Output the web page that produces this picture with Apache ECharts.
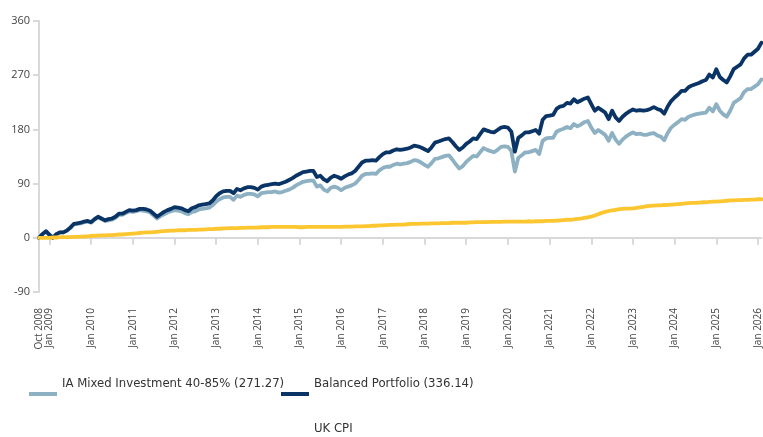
<!DOCTYPE html>
<html>
<head>
<meta charset="utf-8">
<script src="https://cdn.jsdelivr.net/npm/echarts@6/dist/echarts.min.js"></script>
<style>
  html, body { margin: 0; padding: 0; background: #fff; }
  #main { width: 763px; height: 437px; }
</style>
</head>
<body>
<div id="main"></div>
<script>
// monthly points, Oct 2008 .. Feb 2026
let monthNames = ['Jan', 'Feb', 'Mar', 'Apr', 'May', 'Jun', 'Jul', 'Aug', 'Sep', 'Oct', 'Nov', 'Dec'];
let startYear = 2008;
let startMonth = 9; // Oct
let monthCount = 209;

let tickLabels = ['Oct 2008', 'Jan 2009', 'Jan 2010', 'Jan 2011', 'Jan 2012', 'Jan 2013', 'Jan 2014',
    'Jan 2015', 'Jan 2016', 'Jan 2017', 'Jan 2018', 'Jan 2019', 'Jan 2020', 'Jan 2021',
    'Jan 2022', 'Jan 2023', 'Jan 2024', 'Jan 2025', 'Jan 2026'];

let yTicks = [-90, 0, 90, 180, 270, 360];

let balanced = [
    0, 6, 11,
    5, 0, 6, 9, 9, 12, 17, 23, 24, 25, 27, 28,
    26, 31, 35, 32, 29, 31, 32, 35, 40, 40, 43, 46,
    45, 46, 48, 48, 47, 45, 40, 35, 39, 43, 46, 48,
    51, 50, 49, 46, 44, 49, 51, 54, 55, 56, 57, 62,
    69, 74, 77, 78, 78, 74, 81, 79, 82, 84, 84, 83,
    80, 85, 87, 88, 89, 90, 89, 91, 93, 96, 99, 103,
    106, 109, 110, 111, 111, 101, 103, 97, 94, 100, 103, 101,
    98, 102, 105, 107, 111, 118, 125, 128, 128, 129, 128, 134,
    139, 142, 142, 145, 147, 146, 147, 148, 150, 153, 152, 150,
    147, 144, 150, 158, 160, 162, 164, 165, 159, 152, 146, 150,
    156, 160, 165, 164, 172, 180, 178, 176, 175, 179, 183, 184,
    183, 176, 143, 166, 170, 175, 175, 177, 179, 173, 196, 202,
    203, 204, 214, 218, 219, 224, 223, 230, 225, 228, 231, 233,
    222, 211, 216, 212, 208, 197, 211, 200, 194, 201, 206, 210,
    213, 211, 212, 211, 212, 214, 217, 214, 212, 206, 218, 227,
    233, 238, 244, 244, 250, 253, 255, 257, 260, 262, 271, 266,
    280, 267, 262, 258, 268, 280, 284, 288, 298, 304, 304, 309,
    314, 324
];

let mixed = [
    0, 6, 10,
    5, 0, 6, 9, 9, 12, 16, 22, 23, 24, 26, 27,
    25, 30, 34, 31, 28, 29, 30, 33, 38, 38, 41, 44,
    43, 44, 46, 45, 44, 42, 37, 32, 36, 39, 42, 44,
    46, 45, 44, 41, 39, 43, 44, 47, 48, 49, 50, 54,
    60, 64, 67, 68, 68, 63, 70, 68, 71, 73, 73, 72,
    69, 74, 75, 76, 76, 77, 75, 76, 78, 80, 83, 87,
    90, 93, 94, 95, 95, 85, 87, 80, 77, 83, 85, 83,
    79, 83, 85, 87, 90, 96, 103, 106, 106, 107, 106, 112,
    116, 118, 118, 121, 123, 122, 123, 124, 126, 129, 128, 125,
    121, 118, 124, 131, 132, 134, 136, 137, 130, 122, 115, 119,
    126, 131, 136, 135, 142, 149, 146, 144, 142, 146, 151, 152,
    151, 144, 110, 133, 137, 142, 142, 144, 146, 139, 161, 165,
    166, 166, 176, 179, 181, 184, 182, 189, 185, 188, 192, 194,
    183, 174, 179, 175, 171, 161, 174, 163, 156, 163, 168, 172,
    175, 172, 173, 171, 171, 173, 174, 170, 168, 162, 174, 183,
    188, 192, 197, 196, 201, 203, 205, 206, 207, 208, 216, 210,
    222, 211, 205, 201, 211, 224, 228, 232, 242, 247, 247, 251,
    255, 263
];

let cpi = [
    0, 0, 0,
    0, 0.5, 0.5, 1, 1, 1, 1, 1.5, 1.5, 2, 2, 2.5,
    3, 3.5, 3.5, 4, 4, 4.5, 4.5, 5, 5.5, 5.5, 6, 6.5,
    7, 7.5, 8, 8.5, 9, 9, 9.5, 10, 10.5, 11, 11.5, 12,
    12, 12.5, 12.5, 12.5, 13, 13, 13, 13.5, 13.5, 14, 14.5, 14.5,
    15, 15, 15.5, 15.5, 16, 16, 16, 16.5, 16.5, 17, 17, 17,
    17, 17.5, 17.5, 17.5, 18, 18, 18, 18, 18, 18, 18, 18,
    17.5, 17.5, 18, 18, 18, 18, 18, 18, 18, 18, 18, 18,
    18, 18.5, 18.5, 18.5, 19, 19, 19, 19.5, 19.5, 20, 20, 20.5,
    20.5, 21, 21.5, 21.5, 22, 22, 22, 22.5, 23, 23, 23, 23.5,
    23.5, 23.5, 24, 24, 24, 24.5, 24.5, 24.5, 25, 25, 25, 25,
    25, 25.5, 25.5, 26, 26, 26, 26, 26.5, 26.5, 26.5, 26.5, 27,
    27, 27, 27, 27, 27, 27, 27.5, 27, 27.5, 27.5, 27.5, 28,
    28, 28, 28.5, 29, 29.5, 30, 30, 30.5, 31.5, 32, 33, 34,
    35, 37, 39, 41.5, 43, 44.5, 45.5, 46.5, 47.5, 48, 48.5, 48.5,
    49, 49.5, 50.5, 51.5, 52.5, 53, 53.5, 54, 54, 54.5, 54.5, 55,
    55.5, 56, 56.5, 57, 57.5, 58, 58, 58.5, 59, 59, 59.5, 60,
    60, 60.5, 61, 61.5, 62, 62, 62.5, 62.5, 63, 63, 63.5, 63.5,
    64, 64
];

let names = {
    mixed: 'IA Mixed Investment 40-85% (271.27)',
    balanced: 'Balanced Portfolio (336.14)',
    cpi: 'UK CPI'
};

let colors = {
    mixed: '#8db1c3',
    balanced: '#0b3466',
    cpi: '#fcc630',
    axis: '#d9d9d9',
    text: '#444444'
};

let months = [];
for (let i = 0; i < monthCount; i++) {
    let m = (startMonth + i) % 12;
    let y = startYear + Math.floor((startMonth + i) / 12);
    months.push(monthNames[m] + ' ' + y);
}

// bar sits under the text: tiny dot at top keeps the icon box 24px tall
let legendIcon = 'path://M0,0h0.01v0.01h-0.01z M0,20h28v4h-28z';

function legendFor(name, left, top) {
    return {
        data: [name],
        left: left,
        top: top,
        icon: legendIcon,
        itemWidth: 28,
        itemHeight: 24,
        symbolKeepAspect: false,
        selectedMode: false,
        textStyle: {
            fontFamily: "'DejaVu Sans Condensed', sans-serif",
            fontSize: 13,
            color: '#333'
        }
    };
}

function lineSeries(name, data, color) {
    return {
        name: name,
        type: 'line',
        data: data,
        symbol: 'none',
        animation: false,
        color: color,
        lineStyle: { width: 3.8, color: color, cap: 'round', join: 'round' }
    };
}

const option = {
    animation: false,
    grid: { left: 39, right: 0, top: 21, bottom: 145 },
    legend: [
        legendFor(names.mixed, 24, 367),
        legendFor(names.balanced, 276, 367),
        legendFor(names.cpi, 276, 412)
    ],
    xAxis: {
        type: 'category',
        data: months,
        boundaryGap: false,
        axisLine: { onZero: true, lineStyle: { color: colors.axis, width: 2 } },
        axisTick: {
            show: true,
            length: 7,
            interval: (i, v) => v.startsWith('Jan'),
            lineStyle: { color: colors.axis, width: 2 }
        },
        axisLabel: {
            interval: (i, v) => tickLabels.includes(v),
            rotate: 90,
            margin: 16,
            hideOverlap: false,
            fontFamily: "'Open Sans', sans-serif",
            fontSize: 10,
            color: colors.text
        }
    },
    yAxis: {
        type: 'value',
        min: yTicks[0],
        max: yTicks[yTicks.length - 1],
        interval: 90,
        splitLine: { show: false },
        axisLine: { show: true, lineStyle: { color: colors.axis, width: 2 } },
        axisTick: { show: true, length: 6, lineStyle: { color: colors.axis, width: 2 } },
        axisLabel: {
            margin: 9,
            fontFamily: "'Open Sans', sans-serif",
            fontSize: 11,
            color: colors.text
        }
    },
    series: [
        lineSeries(names.mixed, mixed, colors.mixed),
        lineSeries(names.balanced, balanced, colors.balanced),
        lineSeries(names.cpi, cpi, colors.cpi)
    ]
};

let plot = echarts.init(document.querySelector('#main'));
plot.setOption(option);
</script>
</body>
</html>
